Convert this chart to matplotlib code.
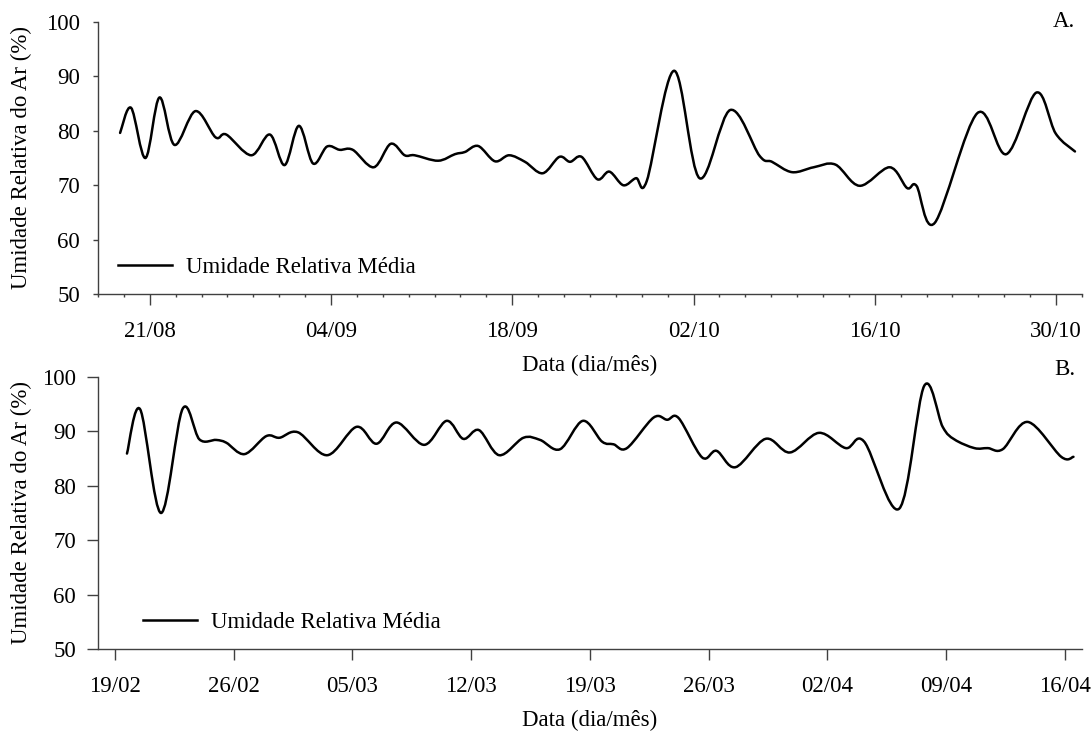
import numpy as np
import matplotlib
matplotlib.use('Agg')
import matplotlib.pyplot as plt
from matplotlib.path import Path
from matplotlib.patches import PathPatch
from matplotlib.lines import Line2D

plt.rcParams['font.family'] = ['Liberation Serif', 'DejaVu Serif']

# A. dias contados a partir de 21/08
dias_a = [-2.29, -1.44, -0.33, 0.75, 1.91, 3.53, 5.08, 5.91, 7.84, 9.28,
          10.42, 11.52, 12.61, 13.69, 14.67, 15.68, 17.30, 18.61, 19.69, 20.46,
          22.27, 23.57, 24.34, 25.37, 26.66, 27.76, 28.98, 30.35, 31.63, 32.46,
          33.36, 34.57, 35.50, 36.58, 37.56, 38.39, 40.50, 42.46, 44.83, 47.10,
          48.06, 49.61, 51.28, 52.95, 54.83, 57.15, 58.49, 59.22, 60.63, 63.91,
          66.16, 68.48, 69.97, 71.46]
ur_a = [79.6, 84.2, 75.0, 86.1, 77.4, 83.6, 78.8, 79.3, 75.5, 79.3,
        73.7, 80.9, 74.0, 77.1, 76.5, 76.5, 73.3, 77.6, 75.5, 75.5,
        74.5, 75.7, 76.1, 77.2, 74.4, 75.5, 74.3, 72.2, 75.2, 74.3,
        75.2, 71.1, 72.5, 70.0, 71.3, 70.8, 91.0, 71.3, 83.8, 75.4,
        74.3, 72.4, 73.3, 73.8, 69.9, 73.3, 69.5, 69.9, 63.1, 83.2,
        75.7, 87.0, 79.5, 76.2]
ticks_a = [0, 14, 28, 42, 56, 70]
rotulos_a = ['21/08', '04/09', '18/09', '02/10', '16/10', '30/10']

# B. dias contados a partir de 19/02
dias_b = [0.71, 1.49, 2.72, 3.99, 4.98, 5.97, 6.56, 7.64, 8.92, 9.70,
          10.79, 12.52, 14.24, 15.42, 16.60, 18.23, 19.55, 20.53, 21.46, 22.65,
          24.08, 25.06, 26.24, 27.58, 28.71, 29.39, 30.18, 31.75, 32.55, 33.23,
          34.61, 35.46, 36.58, 38.35, 39.79, 41.50, 43.08, 44.16, 46.23, 47.70,
          48.79, 49.48, 50.66, 51.45, 52.33, 53.81, 55.78, 56.50]
ur_b = [85.9, 94.0, 75.0, 94.1, 88.5, 88.4, 87.9, 85.8, 89.1, 88.8,
        89.8, 85.6, 90.8, 87.7, 91.6, 87.5, 91.9, 88.6, 90.2, 85.6,
        88.8, 88.4, 86.7, 91.9, 88.1, 87.6, 86.9, 92.5, 92.1, 92.4,
        85.2, 86.4, 83.4, 88.6, 86.1, 89.7, 86.9, 88.1, 75.8, 98.3,
        90.8, 88.5, 86.9, 86.9, 86.7, 91.7, 85.3, 85.3]
ticks_b = [0, 7, 14, 21, 28, 35, 42, 49, 56]
rotulos_b = ['19/02', '26/02', '05/03', '12/03', '19/03', '26/03',
             '02/04', '09/04', '16/04']


def linha_suave(x, y):
    # curva suavizada (Catmull-Rom em Bezier cubica) passando pelos pontos
    p = np.column_stack([x, y]).astype(float)
    e = np.vstack([p[0], p, p[-1]])
    verts = [p[0]]
    codes = [Path.MOVETO]
    for i in range(len(p) - 1):
        p0, p1, p2, p3 = e[i], e[i + 1], e[i + 2], e[i + 3]
        verts += [p1 + (p2 - p0) / 6.0, p2 - (p3 - p1) / 6.0, p2]
        codes += [Path.CURVE4] * 3
    return Path(verts, codes)


fs = 16.5
cor_eixo = '#404040'
lw_linha = 1.8

fig = plt.figure(figsize=(10.92, 7.33), dpi=100)
ax1 = fig.add_axes([0.0897, 0.5985, 0.9011, 0.3719])
ax2 = fig.add_axes([0.0897, 0.1142, 0.9011, 0.3719])

config = [
    (ax1, dias_a, ur_a, ticks_a, rotulos_a, (-4, 72), 'A.', 0.9806, 3.4, 9.5, 0.0203),
    (ax2, dias_b, ur_b, ticks_b, rotulos_b, (-1, 57), 'B.', 1.006, 7.7, 8.0, 0.0458),
]

for ax, x, y, tk, rot, lim, letra, ylet, ytl, ypad, xleg in config:
    ax.add_patch(PathPatch(linha_suave(x, y), fill=False, edgecolor='black',
                           lw=lw_linha, capstyle='round', joinstyle='round'))
    ax.set_xlim(*lim)
    ax.set_ylim(50, 100)
    ax.set_yticks(np.arange(50, 101, 10))
    ax.set_xticks(tk)
    ax.set_xticklabels(rot)
    for s in ['top', 'right']:
        ax.spines[s].set_visible(False)
    for s in ['left', 'bottom']:
        ax.spines[s].set_color(cor_eixo)
        ax.spines[s].set_linewidth(1.0)
    ax.tick_params(axis='y', direction='out', length=ytl, width=1.0,
                   color=cor_eixo, pad=ypad, labelsize=fs)
    ax.tick_params(axis='x', which='major', direction='out', length=7.7,
                   width=1.0, color=cor_eixo, pad=11.5, labelsize=fs)
    ax.set_ylabel('Umidade Relativa do Ar (%)', fontsize=fs)
    ax.yaxis.set_label_coords(-0.067, 0.5)
    ax.set_xlabel('Data (dia/mês)', fontsize=fs)
    ax.xaxis.set_label_coords(0.5, -0.222)
    ax.text(0.993, ylet, letra, transform=ax.transAxes, ha='right',
            va='baseline', fontsize=fs)
    ax.legend(handles=[Line2D([], [], color='black', lw=lw_linha)],
              labels=['Umidade Relativa Média'], loc='center left',
              bbox_to_anchor=(xleg, 0.0976), frameon=False, fontsize=fs,
              handlelength=2.35, handletextpad=0.6, borderpad=0,
              borderaxespad=0)

ax1.set_xticks(np.arange(-4, 73, 2), minor=True)
ax1.tick_params(axis='x', which='minor', direction='out', length=2,
                width=1.0, color=cor_eixo)

fig.savefig('out.png', dpi=100)
